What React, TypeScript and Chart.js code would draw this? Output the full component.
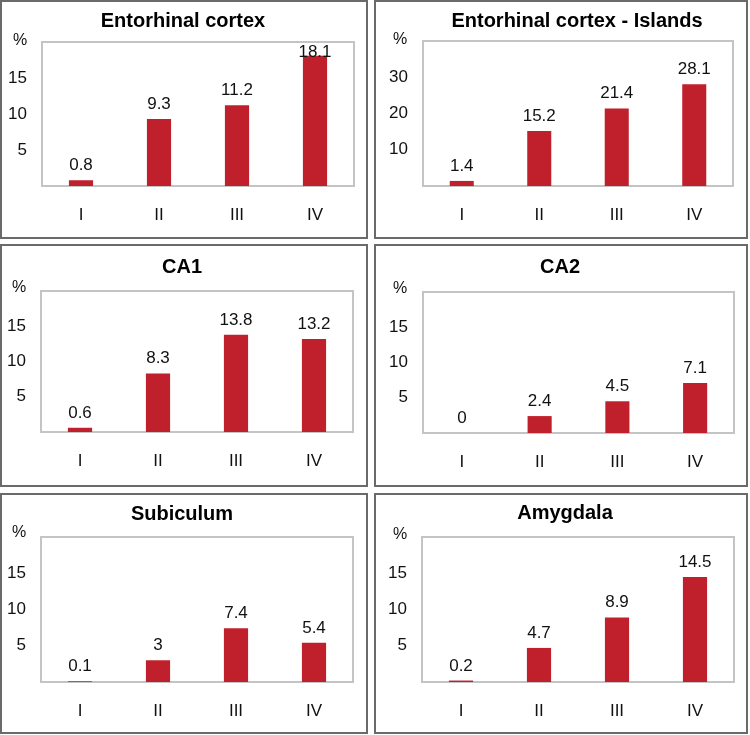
import React, { useEffect, useRef } from 'react';
import { Chart, registerables } from 'chart.js';

Chart.register(...registerables);

// ---- data ----
const stages = ['I', 'II', 'III', 'IV'];
const entorhinalCortex = [0.8, 9.3, 11.2, 18.1];
const entorhinalIslands = [1.4, 15.2, 21.4, 28.1];
const ca1 = [0.6, 8.3, 13.8, 13.2];
const ca2 = [0, 2.4, 4.5, 7.1];
const subiculum = [0.1, 3, 7.4, 5.4];
const amygdala = [0.2, 4.7, 8.9, 14.5];
const panelTitles = ['Entorhinal cortex', 'Entorhinal cortex - Islands', 'CA1', 'CA2', 'Subiculum', 'Amygdala'];
const panelValues = [entorhinalCortex, entorhinalIslands, ca1, ca2, subiculum, amygdala];
const yMaxes = [20, 40, 20, 20, 20, 20];
const ySteps = [5, 10, 5, 5, 5, 5];
const unitLabel = '%';

// ---- layout (page pixel coordinates) ----
type Box = { x: number; y: number; w: number; h: number };
type Plot = { l: number; t: number; r: number; b: number };
type Pt = { x: number; y: number };
const layouts: { box: Box; plot: Plot; title: Pt; pct: Pt }[] = [
  { box: { x: 0, y: 0, w: 368, h: 239 }, plot: { l: 42, t: 42, r: 354, b: 186 }, title: { x: 183, y: 27 }, pct: { x: 20, y: 45 } },
  { box: { x: 374, y: 0, w: 374, h: 239 }, plot: { l: 423, t: 41, r: 733, b: 186 }, title: { x: 577, y: 27 }, pct: { x: 400, y: 44 } },
  { box: { x: 0, y: 244, w: 368, h: 243 }, plot: { l: 41, t: 291, r: 353, b: 432 }, title: { x: 182, y: 273 }, pct: { x: 19, y: 292 } },
  { box: { x: 374, y: 244, w: 374, h: 243 }, plot: { l: 423, t: 292, r: 734, b: 433 }, title: { x: 560, y: 273 }, pct: { x: 400, y: 293 } },
  { box: { x: 0, y: 493, w: 368, h: 241 }, plot: { l: 41, t: 537, r: 353, b: 682 }, title: { x: 182, y: 520 }, pct: { x: 19, y: 537 } },
  { box: { x: 374, y: 493, w: 374, h: 241 }, plot: { l: 422, t: 537, r: 734, b: 682 }, title: { x: 565, y: 519 }, pct: { x: 400, y: 539 } },
];

const FONT = '"Liberation Sans", Arial, Helvetica, sans-serif';
const BAR_COLOR = '#C0202B';
const BORDER = 2;

function Panel({ idx }: { idx: number }) {
  const ref = useRef<HTMLCanvasElement | null>(null);
  const L = layouts[idx];
  const cw = L.box.w - 2 * BORDER;
  const ch = L.box.h - 2 * BORDER;
  const ox = L.box.x + BORDER;
  const oy = L.box.y + BORDER;

  useEffect(() => {
    if (!ref.current) return;
    const values = panelValues[idx];
    const max = yMaxes[idx];
    const title = panelTitles[idx];
    const yAxisWidth = L.plot.l - ox;
    const xAxisHeight = oy + ch - L.plot.b;

    const deco = {
      id: 'deco' + idx,
      beforeDatasetsDraw(chart: any) {
        const { ctx, chartArea: a } = chart;
        ctx.save();
        ctx.strokeStyle = '#c4c4c4';
        ctx.lineWidth = 2;
        ctx.strokeRect(a.left, a.top, a.right - a.left, a.bottom - a.top);
        ctx.restore();
      },
      afterDatasetsDraw(chart: any) {
        const { ctx, chartArea: a } = chart;
        const meta = chart.getDatasetMeta(0);
        ctx.save();
        ctx.fillStyle = '#111';
        ctx.font = `17px ${FONT}`;
        ctx.textAlign = 'center';
        ctx.textBaseline = 'alphabetic';
        meta.data.forEach((bar: any, i: number) => {
          let y = bar.y - 10;
          if (y - 12 < a.top + 2) y = a.top + 15;
          ctx.fillText(String(values[i]), bar.x, y);
        });
        ctx.restore();
      },
      afterDraw(chart: any) {
        const { ctx } = chart;
        ctx.save();
        ctx.fillStyle = '#000';
        ctx.textAlign = 'center';
        ctx.textBaseline = 'alphabetic';
        ctx.font = `bold 20px ${FONT}`;
        ctx.fillText(title, L.title.x - ox, L.title.y - oy);
        ctx.font = `16px ${FONT}`;
        ctx.fillStyle = '#111';
        ctx.fillText(unitLabel, L.pct.x - ox, L.pct.y - oy);
        ctx.restore();
      },
    };

    const chart = new Chart(ref.current, {
      type: 'bar',
      data: {
        labels: stages,
        datasets: [
          {
            data: values,
            backgroundColor: BAR_COLOR,
            borderWidth: 0,
            barPercentage: 0.31,
            categoryPercentage: 1,
          },
        ],
      },
      options: {
        responsive: false,
        animation: false,
        devicePixelRatio: 1,
        layout: {
          padding: { top: L.plot.t - oy, right: ox + cw - L.plot.r, bottom: 0, left: 0 },
        },
        plugins: {
          legend: { display: false },
          title: { display: false },
          tooltip: { enabled: false },
        },
        scales: {
          x: {
            grid: { display: false, drawTicks: false },
            border: { display: false },
            ticks: { color: '#111', font: { family: FONT, size: 17 }, padding: 19 },
            afterFit: (s: any) => {
              s.height = xAxisHeight;
            },
          },
          y: {
            min: 0,
            max: max,
            grid: { display: false, drawTicks: false },
            border: { display: false },
            ticks: {
              stepSize: ySteps[idx],
              color: '#111',
              font: { family: FONT, size: 17 },
              padding: 15,
              callback: (v: any) => (v === 0 || v === max ? '' : String(v)),
            },
            afterFit: (s: any) => {
              s.width = yAxisWidth;
            },
          },
        },
      },
      plugins: [deco],
    } as any);
    return () => chart.destroy();
  }, [idx]);

  return (
    <div
      style={{
        position: 'absolute',
        left: L.box.x,
        top: L.box.y,
        width: L.box.w,
        height: L.box.h,
        boxSizing: 'border-box',
        border: `${BORDER}px solid #6a6a6a`,
        background: '#fff',
      }}
    >
      <canvas ref={ref} width={cw} height={ch} style={{ display: 'block', width: cw, height: ch }} />
    </div>
  );
}

export default function App() {
  return (
    <div style={{ position: 'absolute', left: 0, top: 0, width: 750, height: 735, background: '#fff' }}>
      {layouts.map((_, i) => (
        <Panel key={i} idx={i} />
      ))}
    </div>
  );
}
